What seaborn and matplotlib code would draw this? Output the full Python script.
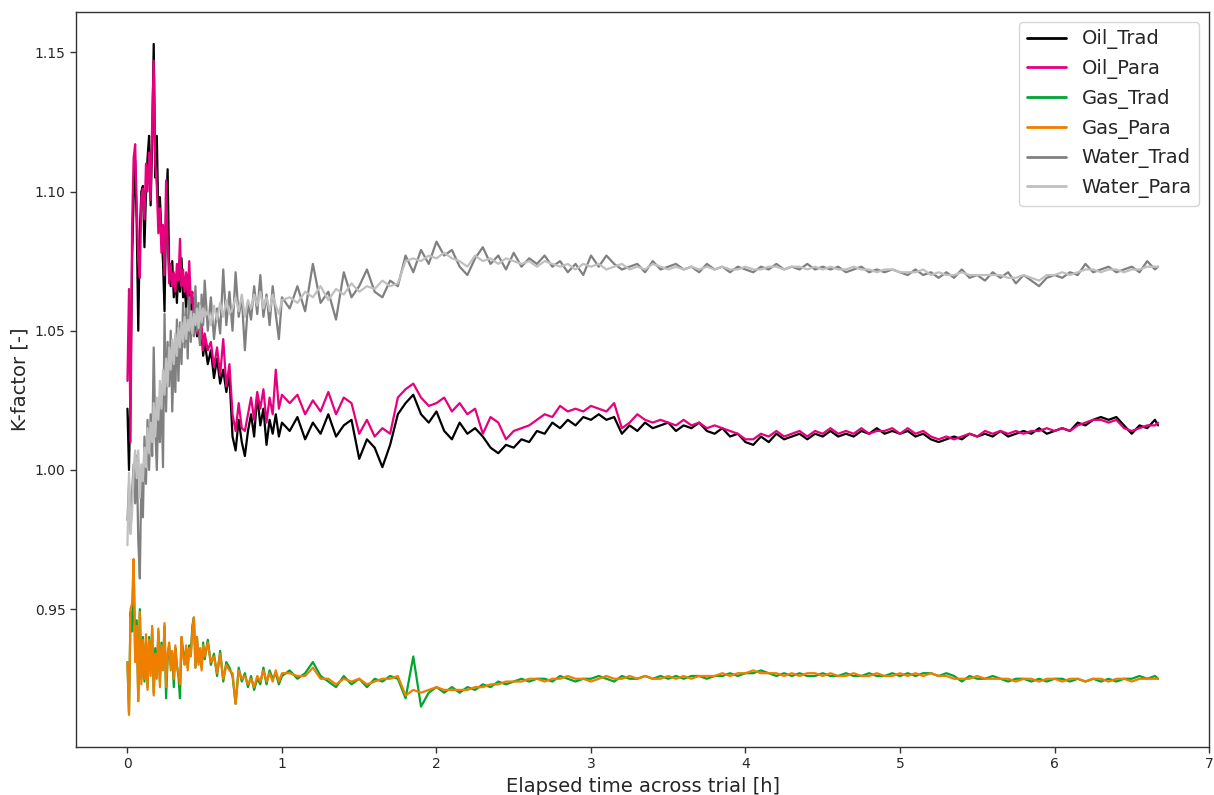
import numpy as np
import pandas as pd
import matplotlib
matplotlib.use("Agg")
import matplotlib.pyplot as plt
import seaborn as sns

# ---------------- data ----------------
# sampling grid of the elapsed time [h]: dense at start, coarser later
time_h = np.concatenate([
    np.arange(51) * 0.01,          # 0.00 .. 0.50
    0.52 + np.arange(25) * 0.02,   # 0.52 .. 1.00
    1.05 + np.arange(113) * 0.05,  # 1.05 .. 6.65
    [6.67],
])

series_names = ["Oil_Trad", "Oil_Para", "Gas_Trad", "Gas_Para", "Water_Trad", "Water_Para"]

oil_trad = [
    1.022, 1.000, 1.030, 1.075, 1.098, 1.111, 1.088, 1.050, 1.085, 1.100,
    1.102, 1.080, 1.100, 1.112, 1.120, 1.095, 1.118, 1.153, 1.105, 1.120,
    1.090, 1.098, 1.085, 1.075, 1.057, 1.092, 1.108, 1.072, 1.066, 1.075,
    1.062, 1.070, 1.060, 1.072, 1.064, 1.076, 1.062, 1.066, 1.058, 1.070,
    1.061, 1.052, 1.062, 1.050, 1.055, 1.048, 1.056, 1.045, 1.050, 1.041,
    1.046,
    1.038, 1.043, 1.033, 1.040, 1.031, 1.036, 1.028, 1.034, 1.012, 1.007,
    1.018, 1.010, 1.005, 1.014, 1.020, 1.012, 1.027, 1.016, 1.022, 1.009,
    1.018, 1.013, 1.020, 1.012, 1.017,
    1.014, 1.019, 1.011, 1.017, 1.013, 1.020, 1.012, 1.016, 1.018, 1.004,
    1.011, 1.008, 1.001, 1.009, 1.020, 1.024, 1.027, 1.020, 1.017, 1.021,
    1.014, 1.011, 1.017, 1.013, 1.015, 1.012, 1.008, 1.006, 1.009, 1.008,
    1.011, 1.010, 1.014, 1.013, 1.017, 1.015, 1.018, 1.016, 1.019, 1.018,
    1.020, 1.018, 1.019, 1.013, 1.016, 1.014, 1.017, 1.015, 1.016, 1.017,
    1.014, 1.016, 1.015, 1.017, 1.014, 1.013, 1.015, 1.012, 1.013, 1.010,
    1.009, 1.012, 1.010, 1.013, 1.011, 1.012, 1.013, 1.011, 1.013, 1.012,
    1.014, 1.012, 1.013, 1.012, 1.014, 1.013, 1.015, 1.013, 1.014, 1.013,
    1.014, 1.012, 1.013, 1.011, 1.010, 1.011, 1.012, 1.011, 1.013, 1.012,
    1.013, 1.012, 1.014, 1.012, 1.013, 1.014, 1.013, 1.015, 1.013, 1.014,
    1.015, 1.014, 1.017, 1.016, 1.018, 1.019, 1.018, 1.019, 1.016, 1.013,
    1.016, 1.015, 1.018, 1.016,
]

oil_para = [
    1.032, 1.065, 1.010, 1.088, 1.112, 1.117, 1.095, 1.075, 1.069, 1.098,
    1.101, 1.090, 1.110, 1.100, 1.114, 1.097, 1.125, 1.147, 1.110, 1.102,
    1.085, 1.094, 1.078, 1.088, 1.070, 1.104, 1.082, 1.067, 1.074, 1.066,
    1.071, 1.064, 1.074, 1.068, 1.083, 1.066, 1.072, 1.064, 1.071, 1.062,
    1.075, 1.060, 1.064, 1.052, 1.058, 1.049, 1.057, 1.047, 1.052, 1.043,
    1.049,
    1.043, 1.046, 1.037, 1.044, 1.034, 1.047, 1.030, 1.038, 1.020, 1.014,
    1.024, 1.015, 1.014, 1.020, 1.026, 1.018, 1.028, 1.022, 1.029, 1.017,
    1.026, 1.020, 1.036, 1.022, 1.027,
    1.024, 1.027, 1.020, 1.025, 1.021, 1.028, 1.020, 1.026, 1.024, 1.013,
    1.018, 1.012, 1.015, 1.013, 1.026, 1.029, 1.031, 1.026, 1.023, 1.024,
    1.026, 1.021, 1.024, 1.020, 1.022, 1.013, 1.019, 1.017, 1.011, 1.014,
    1.015, 1.016, 1.018, 1.020, 1.019, 1.023, 1.021, 1.022, 1.021, 1.023,
    1.022, 1.021, 1.024, 1.015, 1.017, 1.020, 1.018, 1.017, 1.018, 1.017,
    1.016, 1.018, 1.016, 1.017, 1.015, 1.016, 1.015, 1.014, 1.013, 1.011,
    1.011, 1.013, 1.012, 1.014, 1.012, 1.013, 1.014, 1.012, 1.014, 1.013,
    1.015, 1.013, 1.014, 1.013, 1.015, 1.013, 1.014, 1.014, 1.015, 1.013,
    1.015, 1.013, 1.014, 1.012, 1.011, 1.012, 1.011, 1.012, 1.013, 1.012,
    1.014, 1.013, 1.014, 1.013, 1.014, 1.013, 1.014, 1.014, 1.015, 1.014,
    1.015, 1.014, 1.016, 1.017, 1.018, 1.018, 1.017, 1.018, 1.015, 1.014,
    1.015, 1.016, 1.016, 1.017,
]

gas_trad = [
    0.931, 0.913, 0.949, 0.942, 0.966, 0.933, 0.946, 0.917, 0.950, 0.925,
    0.940, 0.924, 0.938, 0.922, 0.940, 0.928, 0.943, 0.920, 0.936, 0.926,
    0.942, 0.924, 0.938, 0.930, 0.944, 0.918, 0.932, 0.937, 0.930, 0.934,
    0.922, 0.936, 0.930, 0.926, 0.918, 0.940, 0.935, 0.931, 0.936, 0.929,
    0.937, 0.934, 0.944, 0.947, 0.929, 0.940, 0.931, 0.935, 0.929, 0.938,
    0.932,
    0.939, 0.930, 0.934, 0.926, 0.935, 0.924, 0.931, 0.929, 0.926, 0.916,
    0.929, 0.924, 0.927, 0.922, 0.926, 0.921, 0.925, 0.923, 0.929, 0.923,
    0.928, 0.925, 0.927, 0.923, 0.926,
    0.928, 0.925, 0.927, 0.931, 0.926, 0.924, 0.922, 0.926, 0.923, 0.925,
    0.922, 0.925, 0.924, 0.926, 0.925, 0.918, 0.933, 0.915, 0.920, 0.922,
    0.920, 0.922, 0.920, 0.922, 0.921, 0.923, 0.922, 0.924, 0.923, 0.924,
    0.925, 0.924, 0.925, 0.925, 0.924, 0.926, 0.925, 0.924, 0.925, 0.925,
    0.926, 0.925, 0.924, 0.926, 0.925, 0.925, 0.926, 0.925, 0.926, 0.925,
    0.926, 0.925, 0.926, 0.926, 0.925, 0.926, 0.926, 0.927, 0.926, 0.927,
    0.927, 0.928, 0.927, 0.926, 0.927, 0.926, 0.927, 0.926, 0.926, 0.927,
    0.926, 0.926, 0.927, 0.926, 0.926, 0.927, 0.926, 0.926, 0.927, 0.926,
    0.927, 0.926, 0.927, 0.927, 0.926, 0.927, 0.926, 0.924, 0.926, 0.925,
    0.925, 0.926, 0.925, 0.924, 0.925, 0.925, 0.924, 0.925, 0.924, 0.925,
    0.925, 0.924, 0.925, 0.924, 0.925, 0.924, 0.925, 0.924, 0.925, 0.925,
    0.926, 0.925, 0.926, 0.925,
]

gas_para = [
    0.931, 0.912, 0.950, 0.952, 0.968, 0.931, 0.944, 0.917, 0.949, 0.923,
    0.939, 0.925, 0.941, 0.921, 0.939, 0.926, 0.944, 0.919, 0.934, 0.925,
    0.943, 0.922, 0.937, 0.928, 0.945, 0.922, 0.934, 0.938, 0.928, 0.935,
    0.925, 0.937, 0.929, 0.927, 0.923, 0.940, 0.933, 0.930, 0.937, 0.928,
    0.936, 0.933, 0.942, 0.947, 0.929, 0.940, 0.930, 0.936, 0.928, 0.937,
    0.933,
    0.938, 0.931, 0.933, 0.927, 0.934, 0.925, 0.930, 0.928, 0.927, 0.916,
    0.928, 0.925, 0.926, 0.923, 0.925, 0.922, 0.926, 0.924, 0.928, 0.924,
    0.927, 0.924, 0.928, 0.924, 0.927,
    0.927, 0.926, 0.926, 0.929, 0.925, 0.925, 0.923, 0.925, 0.924, 0.925,
    0.923, 0.924, 0.925, 0.925, 0.926, 0.919, 0.921, 0.920, 0.921, 0.922,
    0.921, 0.921, 0.921, 0.921, 0.922, 0.922, 0.923, 0.923, 0.924, 0.924,
    0.924, 0.925, 0.925, 0.924, 0.925, 0.925, 0.926, 0.925, 0.925, 0.924,
    0.925, 0.926, 0.925, 0.925, 0.926, 0.925, 0.926, 0.925, 0.925, 0.926,
    0.925, 0.926, 0.925, 0.926, 0.926, 0.926, 0.927, 0.926, 0.927, 0.927,
    0.928, 0.927, 0.927, 0.927, 0.926, 0.927, 0.926, 0.927, 0.927, 0.926,
    0.927, 0.926, 0.926, 0.927, 0.926, 0.926, 0.927, 0.926, 0.926, 0.927,
    0.926, 0.927, 0.926, 0.927, 0.926, 0.926, 0.925, 0.925, 0.925, 0.926,
    0.925, 0.925, 0.925, 0.925, 0.924, 0.925, 0.925, 0.924, 0.925, 0.925,
    0.924, 0.925, 0.925, 0.924, 0.925, 0.925, 0.924, 0.925, 0.925, 0.924,
    0.925, 0.925, 0.925, 0.925,
]

water_trad = [
    0.982, 0.995, 0.978, 0.992, 1.002, 0.988, 1.005, 0.975, 0.961, 0.998,
    0.983, 1.012, 0.995, 1.018, 1.000, 1.020, 1.005, 1.044, 1.015, 1.000,
    1.024, 1.010, 1.030, 1.001, 1.056, 1.021, 1.046, 1.030, 1.050, 1.021,
    1.042, 1.028, 1.054, 1.032, 1.053, 1.038, 1.060, 1.044, 1.058, 1.040,
    1.062, 1.046, 1.057, 1.048, 1.066, 1.050, 1.060, 1.045, 1.063, 1.052,
    1.068,
    1.050, 1.062, 1.047, 1.058, 1.049, 1.072, 1.052, 1.064, 1.050, 1.071,
    1.055, 1.062, 1.043, 1.060, 1.054, 1.066, 1.056, 1.070, 1.055, 1.063,
    1.052, 1.066, 1.056, 1.047, 1.062,
    1.058, 1.066, 1.057, 1.074, 1.060, 1.064, 1.054, 1.071, 1.062, 1.066,
    1.072, 1.064, 1.062, 1.068, 1.066, 1.077, 1.071, 1.079, 1.074, 1.082,
    1.077, 1.079, 1.073, 1.070, 1.076, 1.080, 1.074, 1.077, 1.072, 1.078,
    1.073, 1.076, 1.074, 1.077, 1.073, 1.075, 1.071, 1.074, 1.070, 1.077,
    1.073, 1.077, 1.074, 1.072, 1.073, 1.074, 1.071, 1.075, 1.072, 1.073,
    1.074, 1.072, 1.073, 1.071, 1.074, 1.072, 1.073, 1.071, 1.073, 1.072,
    1.071, 1.073, 1.072, 1.074, 1.072, 1.073, 1.072, 1.074, 1.072, 1.073,
    1.072, 1.073, 1.071, 1.072, 1.073, 1.071, 1.072, 1.071, 1.072, 1.071,
    1.070, 1.072, 1.070, 1.071, 1.069, 1.071, 1.069, 1.072, 1.069, 1.070,
    1.068, 1.071, 1.069, 1.071, 1.067, 1.070, 1.068, 1.066, 1.069, 1.070,
    1.069, 1.071, 1.070, 1.074, 1.071, 1.072, 1.073, 1.071, 1.072, 1.073,
    1.071, 1.075, 1.072, 1.073,
]

water_para = [
    0.973, 0.999, 0.977, 0.985, 1.000, 1.007, 0.997, 1.007, 0.990, 1.002,
    0.996, 1.008, 1.001, 1.015, 1.006, 1.017, 1.010, 1.024, 1.012, 1.026,
    1.018, 1.032, 1.022, 1.036, 1.027, 1.040, 1.030, 1.044, 1.036, 1.047,
    1.038, 1.049, 1.041, 1.051, 1.044, 1.053, 1.046, 1.055, 1.047, 1.054,
    1.050, 1.057, 1.049, 1.056, 1.052, 1.058, 1.051, 1.059, 1.053, 1.058,
    1.055,
    1.057, 1.052, 1.059, 1.054, 1.060, 1.055, 1.061, 1.056, 1.058, 1.062,
    1.057, 1.063, 1.055, 1.061, 1.058, 1.063, 1.059, 1.064, 1.058, 1.062,
    1.057, 1.063, 1.059, 1.056, 1.061,
    1.062, 1.060, 1.064, 1.062, 1.066, 1.061, 1.065, 1.063, 1.067, 1.064,
    1.066, 1.065, 1.068, 1.066, 1.067, 1.075, 1.076, 1.075, 1.077, 1.076,
    1.078, 1.076, 1.075, 1.073, 1.077, 1.075, 1.076, 1.074, 1.076, 1.075,
    1.074, 1.075, 1.073, 1.075, 1.074, 1.073, 1.074, 1.072, 1.074, 1.073,
    1.074, 1.072, 1.073, 1.074, 1.072, 1.073, 1.072, 1.074, 1.073, 1.072,
    1.073, 1.072, 1.073, 1.072, 1.073, 1.072, 1.073, 1.072, 1.072, 1.073,
    1.072, 1.072, 1.073, 1.073, 1.072, 1.073, 1.073, 1.072, 1.073, 1.072,
    1.073, 1.072, 1.072, 1.073, 1.072, 1.072, 1.071, 1.072, 1.072, 1.071,
    1.071, 1.071, 1.072, 1.070, 1.071, 1.070, 1.070, 1.071, 1.070, 1.070,
    1.070, 1.070, 1.070, 1.069, 1.069, 1.070, 1.069, 1.068, 1.070, 1.070,
    1.071, 1.070, 1.071, 1.072, 1.072, 1.071, 1.072, 1.072, 1.071, 1.072,
    1.072, 1.073, 1.073, 1.073,
]

series_values = [oil_trad, oil_para, gas_trad, gas_para, water_trad, water_para]
colors = ["#000000", "#e6007e", "#00a532", "#f07f00", "#808080", "#c0c0c0"]

# ---------------- build long-form table ----------------
frames = []
for name, vals in zip(series_names, series_values):
    if len(vals) != len(time_h):
        raise ValueError(f"{name}: {len(vals)} values vs {len(time_h)} times")
    frames.append(pd.DataFrame({"time": time_h, "k": vals, "series": name}))
df = pd.concat(frames, ignore_index=True)

# ---------------- plot ----------------
sns.set_theme(style="ticks")
plt.rcParams["font.family"] = ["DejaVu Sans"]

fig, ax = plt.subplots(figsize=(12.14, 7.95), dpi=100)
fig.subplots_adjust(left=0.0626, right=0.9959, bottom=0.0604, top=0.985)

sns.lineplot(data=df, x="time", y="k", hue="series", hue_order=series_names,
             palette=dict(zip(series_names, colors)), estimator=None,
             errorbar=None, linewidth=1.6, ax=ax)

ax.set_xlim(-0.333, 7.0)
ax.set_ylim(0.9005, 1.1645)
ax.set_xticks(range(0, 8))
ax.set_yticks([0.95, 1.00, 1.05, 1.10, 1.15])
ax.set_yticklabels(["0.95", "1.00", "1.05", "1.10", "1.15"])
ax.tick_params(axis="both", labelsize=10, length=4, width=1, color="#333333")
for sp in ax.spines.values():
    sp.set_color("#333333")
    sp.set_linewidth(1.0)

ax.set_xlabel("Elapsed time across trial [h]", fontsize=14)
ax.set_ylabel("K-factor [-]", fontsize=14)

leg = ax.legend(loc="upper right", fontsize=14, frameon=True, fancybox=True,
                framealpha=0.8, edgecolor="#cccccc", title=None)
for line in leg.get_lines():
    line.set_linewidth(2.0)

fig.savefig("out.png", dpi=100)
